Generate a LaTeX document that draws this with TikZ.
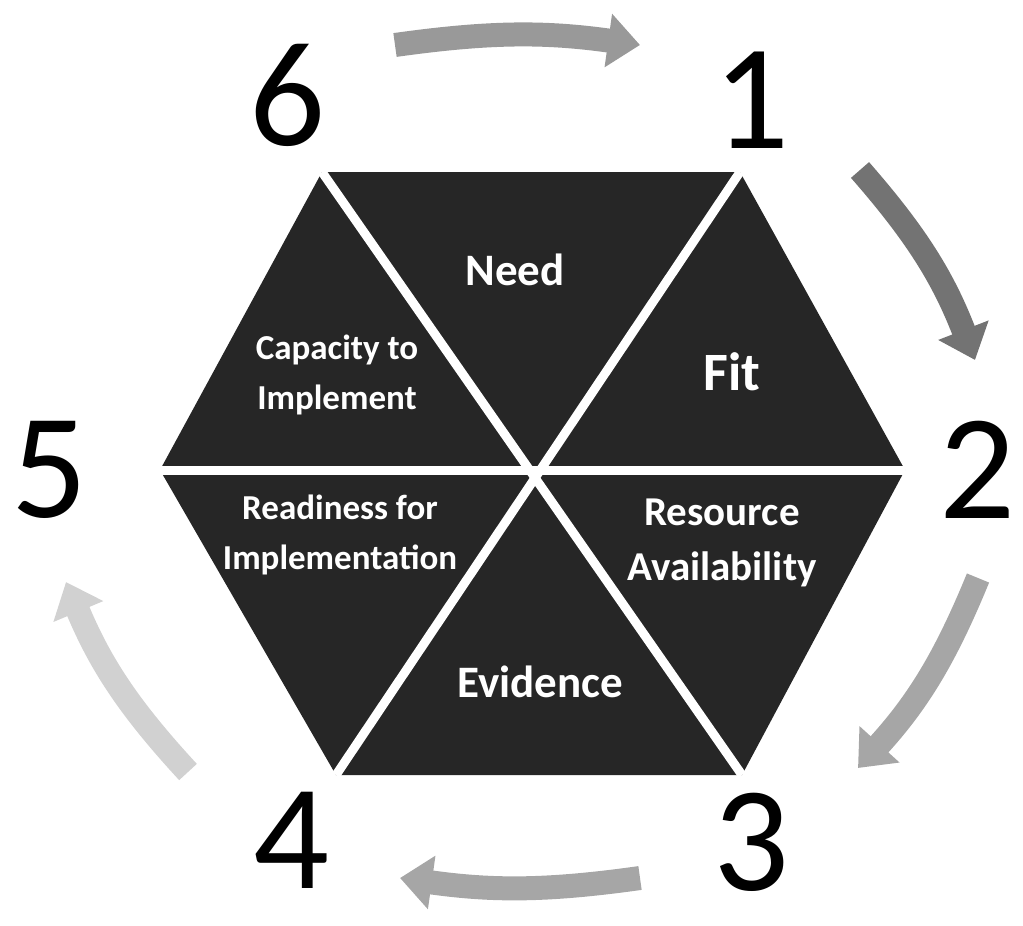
\documentclass[tikz,border=0pt]{standalone}
\usepackage{fontspec}
\setmainfont{Carlito}
\usetikzlibrary{arrows.meta}
\begin{document}
\begin{tikzpicture}[x=1pt,y=-1pt,
  hexfill/.style={fill=black!85},
  divider/.style={draw=white, line width=9pt},
  num/.style={font=\fontsize{150}{150}\selectfont, inner sep=0pt},
  lbig/.style={text=white, inner sep=0pt, font=\bfseries\fontsize{45}{50}\selectfont},
  lsmall/.style={text=white, inner sep=0pt, align=center, font=\bfseries\fontsize{35}{50}\selectfont},
  cyc/.style={line width=24pt, -{Triangle[width=52pt,length=32pt]}}]
\useasboundingbox (0,0) rectangle (1023,926);
% hexagon vertices
\coordinate (tl) at (322,172);
\coordinate (tr) at (740,172);
\coordinate (r)  at (905,470);
\coordinate (br) at (742,775);
\coordinate (bl) at (336,775);
\coordinate (l)  at (160,470);
\fill[hexfill] (tl) -- (tr) -- (r) -- (br) -- (bl) -- (l) -- cycle;
\draw[divider] (l) -- (r);
\draw[divider] (tl) -- (br);
\draw[divider] (tr) -- (bl);
% labels
\node[lbig] (need) at (515,270) {Need};
\node[lbig, font=\bfseries\fontsize{54}{60}\selectfont] (fit) at (732,372) {Fit};
\node[lbig] (evid) at (540,682) {Evidence};
\node[lsmall] (cap) at (337,375) {Capacity to\\Implement};
\node[lsmall, font=\bfseries\fontsize{41}{55}\selectfont] (res) at (722,543) {Resource\\Availability};
\node[lsmall] (ready) at (340,535) {Readiness for\\Implementation};
% numbers
\node[num] (n1) at (752,100) {1};
\node[num] (n2) at (978,470) {2};
\node[num] (n3) at (752,842) {3};
\node[num] (n4) at (292,840) {4};
\node[num] (n5) at (50,470) {5};
\node[num] (n6) at (288,95) {6};
% cycle arrows
\coordinate (a6s) at (395,45);
\coordinate (a6e) at (640,45);
\coordinate (a1s) at (860,170);
\coordinate (a1e) at (975,360);
\coordinate (a2s) at (978,578);
\coordinate (a2e) at (858,768);
\coordinate (a3s) at (640,878);
\coordinate (a3e) at (400,878);
\coordinate (a4s) at (188,772);
\coordinate (a4e) at (66,582);
\draw[cyc, draw=black!40, fill=black!40] (a6s) to[bend left=8] (a6e);
\draw[cyc, draw=black!55, fill=black!55] (a1s) to[bend left=10] (a1e);
\draw[cyc, draw=black!35, fill=black!35] (a2s) to[bend left=10] (a2e);
\draw[cyc, draw=black!35, fill=black!35] (a3s) to[bend left=8] (a3e);
\draw[cyc, draw=black!18, fill=black!18] (a4s) to[bend left=10] (a4e);
\end{tikzpicture}
\end{document}
